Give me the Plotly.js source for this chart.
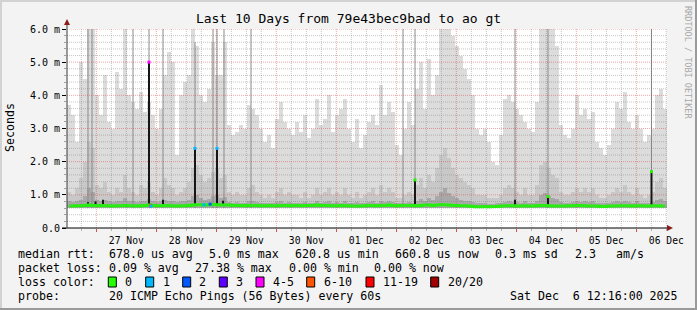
<!DOCTYPE html>
<html><head><meta charset="utf-8">
<script src="https://cdn.plot.ly/plotly-3.0.1.min.js"></script>
<style>html,body{margin:0;padding:0;background:#f3f3f3;}#chart{width:697px;height:310px;}</style>
</head><body><div id="chart"></div>
<script>
// ---------- data ----------
const startTime = '2025-11-26 12:16:00';
const endTime   = '2025-12-06 12:16:00';
const binMinutes = 96;           // one smoke column per 96 minutes
const smokeFloor = 0.6;          // ms, bottom of the smoke

// top of the light smoke (slowest ping) per column, ms
const lightTop = [
 3.7,3.4,2.6,5.0,4.5,6.0,6.0,4.0,3.4,4.6,
 3.2,3.0,4.7,4.2,6.0,4.0,3.8,3.6,4.1,3.5,
 3.8,3.4,3.0,3.6,4.6,5.3,5.0,2.2,4.0,4.4,
 4.6,6.0,5.5,4.0,3.8,4.2,5.6,4.6,4.6,5.6,
 3.1,2.8,2.9,3.1,3.0,3.7,3.6,3.4,3.0,2.6,
 2.8,2.4,3.3,3.8,3.2,3.0,2.8,3.2,2.9,3.4,
 2.7,3.0,3.9,3.1,3.3,4.0,2.9,3.4,3.6,3.9,
 3.0,2.6,3.3,2.4,2.8,3.2,3.4,3.1,4.3,3.4,
 3.8,3.5,2.5,2.2,3.0,3.8,3.1,4.2,5.0,3.6,
 5.1,4.0,4.6,6.0,6.0,6.0,5.8,5.5,5.2,4.8,
 4.5,4.0,3.0,2.8,3.0,2.6,2.0,1.9,2.8,3.9,
 4.0,3.8,3.6,3.4,3.2,3.0,2.9,3.8,6.0,6.0,
 6.0,6.0,5.5,3.1,2.8,2.7,3.0,4.0,3.4,3.6,
 3.3,3.5,2.6,2.4,2.2,2.5,3.0,3.8,3.6,4.1,
 3.2,3.0,3.4,3.0,2.6,2.8,3.0,4.0,4.2,3.6
];
// top of the medium smoke, ms
const midTop = [
 1.1,1.0,1.2,1.5,2.0,2.6,2.4,1.3,1.2,1.4,
 1.1,1.0,1.2,1.1,1.6,1.2,1.1,1.0,1.3,1.2,
 1.4,1.1,1.0,1.2,1.5,1.3,1.2,1.0,1.1,1.2,
 1.4,1.8,1.9,1.6,1.4,1.5,1.7,1.8,1.5,1.6,
 1.1,1.0,1.1,1.0,1.0,1.2,1.3,1.1,1.0,0.9,
 1.0,0.9,1.1,1.2,1.0,1.1,1.0,1.0,0.9,1.1,
 0.9,1.0,1.2,1.0,1.1,1.2,1.0,1.1,1.0,1.2,
 1.0,0.9,1.1,0.9,1.0,1.1,1.2,1.0,1.3,1.1,
 1.2,1.1,0.9,0.9,1.0,1.1,1.0,1.3,1.5,1.2,
 1.6,1.4,1.8,2.2,2.4,2.1,1.8,1.6,1.5,1.4,
 1.3,1.2,1.0,1.0,1.0,0.9,0.9,0.9,1.0,1.2,
 1.3,1.2,1.1,1.0,1.2,1.0,1.0,1.3,1.9,2.0,
 1.8,1.6,1.5,1.1,1.0,1.0,1.1,1.2,1.1,1.2,
 1.1,1.2,1.0,0.9,0.9,1.0,1.1,1.2,1.1,1.3,
 1.1,1.0,1.2,1.0,0.9,1.0,1.1,1.4,1.5,1.2
];
// top of the dense (dark) smoke, ms
const darkTop = [
 0.80,0.78,0.80,0.85,0.95,1.20,1.10,0.85,0.82,0.85,
 0.80,0.78,0.80,0.80,0.90,0.82,0.80,0.78,0.82,0.80,
 0.88,0.80,0.78,0.80,0.85,0.82,0.80,0.78,0.80,0.82,
 0.85,0.95,1.00,0.90,0.85,0.88,0.95,1.00,0.90,0.92,
 0.78,0.76,0.78,0.76,0.76,0.80,0.80,0.78,0.76,0.75,
 0.76,0.75,0.78,0.80,0.76,0.78,0.76,0.76,0.75,0.78,
 0.75,0.76,0.80,0.76,0.78,0.80,0.76,0.78,0.76,0.80,
 0.76,0.75,0.78,0.75,0.76,0.78,0.80,0.76,0.82,0.78,
 0.80,0.78,0.75,0.75,0.76,0.78,0.76,0.82,0.88,0.80,
 0.90,0.85,0.95,1.10,1.20,1.05,0.95,0.90,0.85,0.82,
 0.80,0.78,0.75,0.74,0.74,0.73,0.73,0.74,0.75,0.78,
 0.80,0.78,0.78,0.76,0.80,0.76,0.76,0.82,1.00,1.05,
 0.95,0.90,0.88,0.78,0.76,0.76,0.78,0.80,0.78,0.80,
 0.78,0.80,0.76,0.75,0.75,0.76,0.78,0.80,0.78,0.82,
 0.78,0.76,0.80,0.76,0.75,0.76,0.78,0.85,0.88,0.80
];
// median rtt, ms
const medianRtt = [
 0.66,0.66,0.67,0.67,0.68,0.69,0.68,0.67,0.68,0.67,
 0.67,0.66,0.67,0.67,0.68,0.67,0.67,0.66,0.67,0.68,
 0.69,0.68,0.67,0.67,0.68,0.67,0.67,0.66,0.67,0.67,
 0.68,0.69,0.70,0.70,0.69,0.70,0.71,0.70,0.69,0.69,
 0.69,0.68,0.68,0.68,0.67,0.68,0.68,0.68,0.67,0.67,
 0.68,0.67,0.67,0.68,0.68,0.67,0.68,0.68,0.67,0.68,
 0.68,0.68,0.69,0.68,0.68,0.68,0.67,0.67,0.68,0.67,
 0.67,0.66,0.66,0.66,0.67,0.68,0.68,0.67,0.68,0.68,
 0.69,0.68,0.67,0.68,0.68,0.68,0.68,0.67,0.68,0.69,
 0.69,0.68,0.69,0.70,0.70,0.69,0.68,0.68,0.67,0.67,
 0.66,0.65,0.64,0.64,0.65,0.64,0.65,0.65,0.66,0.67,
 0.67,0.67,0.66,0.66,0.67,0.66,0.66,0.67,0.68,0.68,
 0.67,0.66,0.66,0.66,0.66,0.67,0.67,0.68,0.68,0.67,
 0.66,0.66,0.66,0.65,0.65,0.66,0.66,0.67,0.67,0.67,
 0.67,0.66,0.67,0.67,0.66,0.66,0.67,0.67,0.66,0.66
];
// thin grey smoke streaks reaching the top
const streakTimes = ['2025-11-26 20:40','2025-11-26 22:16','2025-11-27 14:40','2025-11-27 21:04','2025-11-28 02:40',
  '2025-11-28 15:28','2025-11-28 22:40','2025-11-29 00:16','2025-11-29 03:04','2025-11-29 13:52',
  '2025-12-02 02:40','2025-12-02 07:28','2025-12-03 23:28','2025-12-04 12:40','2025-12-06 06:04'];
const streakTops = [6.0,6.0,6.0,6.0,6.0, 5.6,6.0,6.0,6.0,6.0, 6.0,6.0,6.0,6.0,6.0];
// dense (black) smoke columns
const denseTimes = ['2025-11-27 21:04','2025-11-28 15:28','2025-11-29 00:16','2025-12-02 07:28','2025-12-04 12:40',
  '2025-12-06 06:04','2025-11-26 20:40','2025-11-26 23:40','2025-11-27 02:40','2025-11-28 02:40','2025-11-29 02:40','2025-12-03 23:28'];
const denseTops = [5.0,2.4,2.4,1.45,0.95,1.7,0.78,0.80,0.85,0.85,0.82,0.85];
// median points with loss colour
const lossTimes = ['2025-11-27 21:04','2025-11-28 15:28','2025-11-29 00:16','2025-12-02 07:28','2025-12-04 12:40','2025-12-06 06:04','2025-11-27 21:40','2025-11-27 21:50','2025-11-28 19:00','2025-11-28 21:30'];
const lossVals  = [5.0,2.4,2.4,1.45,0.95,1.7,0.68,0.66,0.70,0.72];
const lossColors= ['#ff00ff','#00b8ff','#00b8ff','#26f000','#26f000','#26f000','#ff5500','#00b8ff','#00b8ff','#0059ff'];

const yTickVals = [0,1,2,3,4,5,6];
const yTickText = ['0.0','1.0 m','2.0 m','3.0 m','4.0 m','5.0 m','6.0 m'];
const lossLabels = ['0','1','2','3','4-5','6-10','11-19','20/20'];
const lossLegendColors = ['#26ff00','#00b8ff','#0059ff','#5e00ff','#ff00ff','#ff5500','#ff0000','#a10000'];

// ---------- build ----------
const MONO = 'DejaVu Sans Mono';
const toMs = s => { const m = s.match(/(\d+)-(\d+)-(\d+) (\d+):(\d+)/); return Date.UTC(+m[1], +m[2]-1, +m[3], +m[4], +m[5]); };
const t0 = toMs(startTime), t1 = toMs(endTime);
const binMs = binMinutes*60000;
const binX = lightTop.map((_, i) => t0 + (i+0.5)*binMs);

function smoke(tops, color){
  return {type:'bar', x:binX, y:tops.map(v => v - smokeFloor), base:smokeFloor, width:binMs,
    marker:{color:color, line:{width:0}}, hoverinfo:'skip', showlegend:false};
}
function vlines(times, bottoms, tops, color, width){
  const xs=[], ys=[];
  times.forEach((t,i)=>{ xs.push(t,t,null); ys.push(bottoms[i], tops[i], null); });
  return {type:'scatter', mode:'lines', x:xs, y:ys, line:{color:color, width:width}, hoverinfo:'skip', showlegend:false};
}
const traces = [smoke(lightTop,'#dcdcdc'), smoke(midTop,'#c8c8c8'), smoke(darkTop,'#a8a8a8')];
traces.push(vlines(streakTimes, streakTimes.map(()=>smokeFloor), streakTops, '#8a8a8a', 1));

// grid lines (drawn over the smoke as in rrdtool)
const gMinX=[],gMinY=[],gMajX=[],gMajY=[];
for(let t = Date.UTC(2025,10,26,18); t < t1; t += 6*3600000){
  const major = new Date(t).getUTCHours()===0;
  (major?gMajX:gMinX).push(t,t,null); (major?gMajY:gMinY).push(0,6,null);
}
for(let k=1;k<=30;k++){
  const v = k*0.2, major = k%5===0;
  (major?gMajX:gMinX).push(t0,t1,null); (major?gMajY:gMinY).push(v,v,null);
}
traces.push({type:'scatter',mode:'lines',x:gMinX,y:gMinY,line:{color:'rgba(120,120,120,0.42)',width:1,dash:'1px,1px'},hoverinfo:'skip',showlegend:false});
traces.push({type:'scatter',mode:'lines',x:gMajX,y:gMajY,line:{color:'rgba(215,60,60,0.45)',width:1,dash:'1px,1px'},hoverinfo:'skip',showlegend:false});

traces.push(vlines(denseTimes, denseTimes.map(()=>0.66), denseTops, '#161616', 2));
traces.push({type:'scatter',mode:'lines',x:binX,y:medianRtt,line:{color:'#26ec10',width:3,shape:'hvh'},hoverinfo:'skip',showlegend:false});
traces.push({type:'scatter',mode:'markers',x:lossTimes,y:lossVals,marker:{color:lossColors,size:3,symbol:'square'},hoverinfo:'skip',showlegend:false,cliponaxis:false});

// ---------- layout helpers ----------
const PX = px => (px-67)/600;
const PY = py => (228-py)/199;
const ann = [];
function txt(text, px, py, anchor, size, color, angle){
  ann.push({text:text, x:PX(px), y:PY(py), xref:'paper', yref:'paper', xanchor:anchor||'left', yanchor:'middle',
    showarrow:false, textangle:angle||0, font:{family:MONO, size:size||11.6, color:color||'#000'}});
}
const rows = [
  [['median rtt:',16],['678.0 us avg',107.3],['5.0 ms max',207.3],['620.8 us min',293.3],['660.8 us now',393.3],['0.3 ms sd',493.3],['2.3',572.7],['am/s',614]],
  [['packet loss:',16],['0.09 % avg',107.3],['27.38 % max',192.7],['0.00 % min',286.7],['0.00 % now',372.3]],
  [['loss color:',16]],
  [['probe:',16],['20 ICMP Echo Pings (56 Bytes) every 60s',107.3]]
];
const rowY = [254,268,282,296];
rows.forEach((r,ri)=> r.forEach(([t,x])=>txt(t,x,rowY[ri])));
txt('Sat Dec\u00a0\u00a06 12:16:00 2025', 680, 296, 'right');
txt('Seconds', 10, 128, 'center', 11.6, '#000', -90);
txt('RRDTOOL / TOBI OETIKER', 688, 62, 'center', 8.5, '#a8a8a8', 90);

const sqX = [108.3,145.7,182.7,219.3,256,306.7,366,430.7];
const labX = [123.3,161,197.3,234.3,270.7,321.7,380.7,445.7];
const shapes = [];
lossLabels.forEach((l,i)=>{
  txt(l, labX[i], 282);
  shapes.push({type:'rect', xref:'paper', yref:'paper', x0:PX(sqX[i]), x1:PX(sqX[i]+8), y0:PY(277), y1:PY(287),
    fillcolor:lossLegendColors[i], line:{color:'#000', width:1}});
});
// axis extensions and arrows
shapes.push({type:'line', xref:'paper', yref:'paper', x0:PX(62), x1:PX(668), y0:0, y1:0, line:{color:'#000', width:1}});
shapes.push({type:'line', xref:'paper', yref:'paper', x0:0, x1:0, y0:0, y1:PY(23), line:{color:'#3a3a3a', width:1}});
shapes.push({type:'path', xref:'paper', yref:'paper', path:`M ${PX(64)} ${PY(25)} L ${PX(70)} ${PY(25)} L ${PX(67)} ${PY(19)} Z`, fillcolor:'#8b1a1a', line:{width:0}});
shapes.push({type:'path', xref:'paper', yref:'paper', path:`M ${PX(667)} ${PY(225)} L ${PX(667)} ${PY(231)} L ${PX(673)} ${PY(228)} Z`, fillcolor:'#8b1a1a', line:{width:0}});
// frame
shapes.push({type:'line', xref:'paper', yref:'paper', x0:PX(0), x1:PX(697), y0:PY(1), y1:PY(1), line:{color:'#d2d2d2', width:2}});
shapes.push({type:'line', xref:'paper', yref:'paper', x0:PX(1), x1:PX(1), y0:PY(0), y1:PY(310), line:{color:'#d2d2d2', width:2}});
shapes.push({type:'line', xref:'paper', yref:'paper', x0:PX(696), x1:PX(696), y0:PY(0), y1:PY(310), line:{color:'#9a9a9a', width:2}});
shapes.push({type:'line', xref:'paper', yref:'paper', x0:PX(0), x1:PX(697), y0:PY(309), y1:PY(309), line:{color:'#9a9a9a', width:2}});

const layout = {
  width:697, height:310,
  margin:{l:67, r:30, t:29, b:82, pad:0},
  paper_bgcolor:'#f3f3f3', plot_bgcolor:'#ffffff',
  barmode:'overlay', bargap:0, showlegend:false, hovermode:false,
  title:{text:'Last 10 Days from 79e43bec9bad to ao gt', x:0.5, xref:'container', xanchor:'center',
         y:1-18/310, yref:'container', yanchor:'middle', font:{family:MONO, size:13, color:'#000'}},
  xaxis:{type:'date', range:[startTime,endTime], tick0:'2025-11-27 00:00', dtick:86400000, tickformat:'%d %b',
         ticklabelmode:'period', showgrid:false, zeroline:false, showline:false,
         ticks:'outside', ticklen:3, tickcolor:'#d05050', tickfont:{family:MONO, size:9.7, color:'#000'},
         minor:{dtick:21600000, ticks:'outside', ticklen:2, tickcolor:'#b0b0b0', showgrid:false}, fixedrange:true},
  yaxis:{range:[0,6], tickmode:'array', tickvals:yTickVals, ticktext:yTickText, showgrid:false, zeroline:false,
         showline:false, ticks:'outside', ticklen:4, tickcolor:'#000', tickfont:{family:MONO, size:10, color:'#000'},
         minor:{tickmode:'linear', tick0:0, dtick:0.2, ticks:'outside', ticklen:2, tickcolor:'#a0a0a0', showgrid:false}, fixedrange:true},
  annotations:ann, shapes:shapes
};
Plotly.newPlot('chart', traces, layout, {staticPlot:true, displayModeBar:false});
</script></body></html>
